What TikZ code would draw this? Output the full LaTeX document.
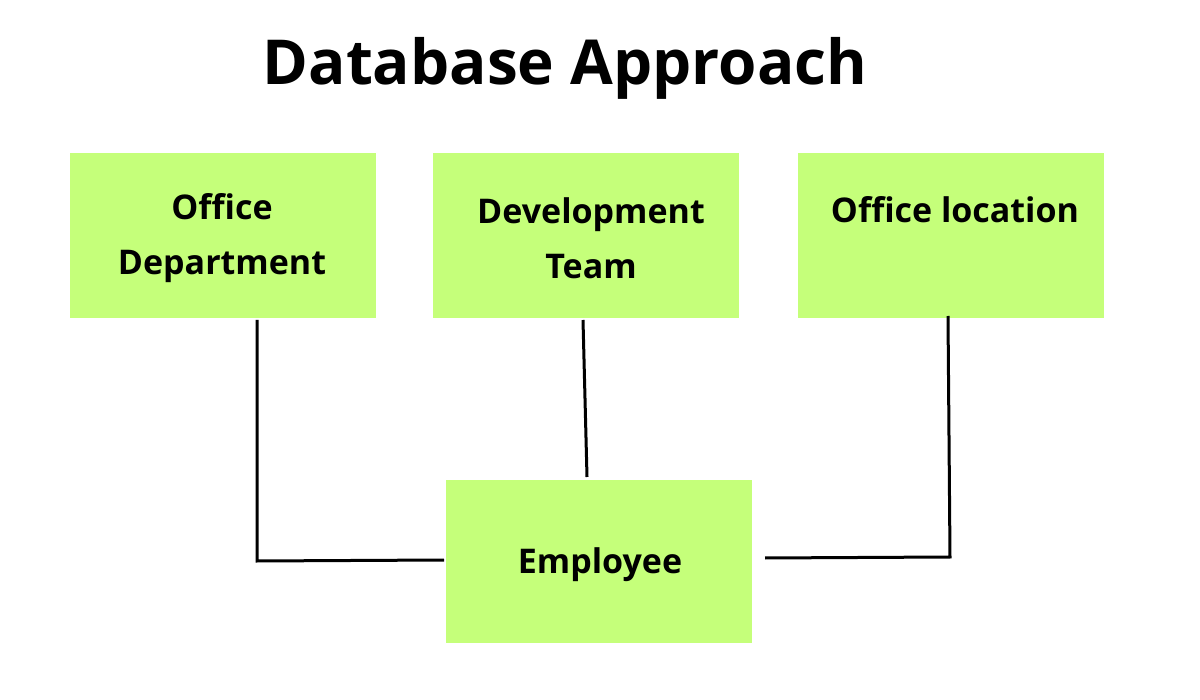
\documentclass[tikz,border=0pt]{standalone}
\usepackage{fontspec}
\setmainfont{Open Sans}
\definecolor{boxg}{HTML}{C5FF7A}
\begin{document}
\begin{tikzpicture}[x=1pt,y=-1pt,
  box/.style={fill=boxg,draw=none,minimum width=306pt,minimum height=165pt,inner sep=0pt,anchor=north west},
  lbl/.style={font=\fontsize{34}{55}\selectfont\bfseries,align=center},
  conn/.style={line width=3pt,line join=miter}]
\useasboundingbox[fill=white] (0,0) rectangle (1200,700);
\node[font=\fontsize{62}{70}\selectfont\bfseries] (title) at (565,68) {Database Approach};
\node[box] (od) at (70,153) {};
\node[box] (dt) at (433,153) {};
\node[box] (ol) at (798,153) {};
\node[box,minimum height=163pt] (em) at (446,480) {};
\node[lbl] (odt) at (222,238) {Office\\Department};
\node[lbl] (dtt) at (591,238) {Development\\Team};
\node[lbl] (olt) at (955,210) {Office location};
\node[lbl] (emt) at (600,565) {Employee};
\coordinate (a1) at (257,320);
\coordinate (a2) at (257,561);
\coordinate (a3) at (444,560);
\coordinate (b1) at (583,320);
\coordinate (b2) at (587,477);
\coordinate (c1) at (948,316);
\coordinate (c2) at (950,557);
\coordinate (c3) at (765,558);
\draw[conn] (a1) -- (a2) -- (a3);
\draw[conn] (b1) -- (b2);
\draw[conn] (c1) -- (c2) -- (c3);
\end{tikzpicture}
\end{document}
